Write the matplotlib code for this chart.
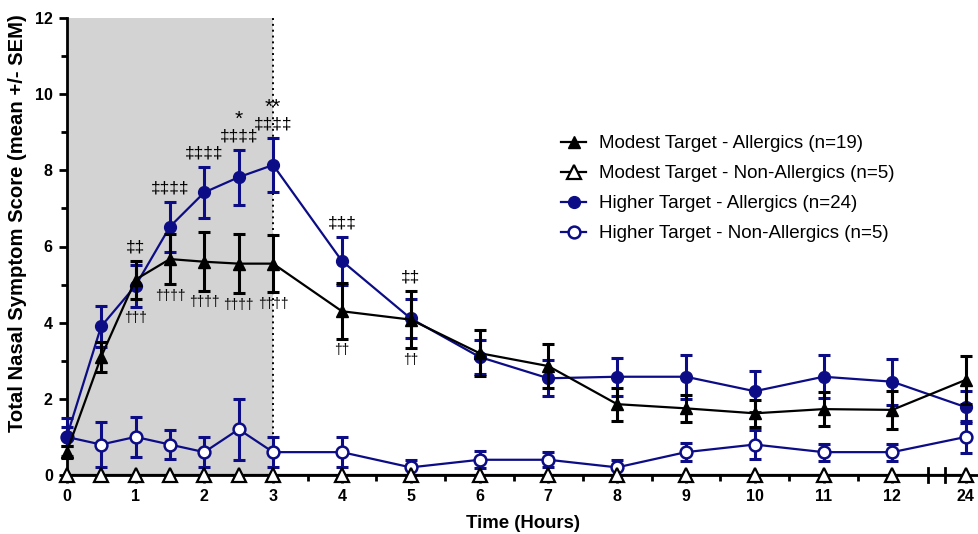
import numpy as np
import matplotlib
matplotlib.use('Agg')
import matplotlib.pyplot as plt
import matplotlib.transforms as mtransforms

plt.rcParams['font.family'] = ['Liberation Sans', 'DejaVu Sans']

# time points (hours); 24 h sits just after the axis break
hours = [0, 0.5, 1, 1.5, 2, 2.5, 3, 4, 5, 6, 7, 8, 9, 10, 11, 12, 24]
tick_hours = [0, 1, 2, 3, 4, 5, 6, 7, 8, 9, 10, 11, 12, 24]

modest_all = [0.6, 3.1, 5.13, 5.67, 5.6, 5.55, 5.55, 4.3, 4.08, 3.2, 2.86, 1.86, 1.75, 1.62, 1.73, 1.71, 2.5]
modest_all_sem = [0.15, 0.4, 0.5, 0.66, 0.77, 0.78, 0.75, 0.73, 0.75, 0.6, 0.57, 0.43, 0.36, 0.35, 0.44, 0.5, 0.63]
modest_non = [0] * 17
higher_all = [1.0, 3.9, 4.97, 6.52, 7.42, 7.82, 8.14, 5.62, 4.11, 3.1, 2.54, 2.58, 2.58, 2.2, 2.58, 2.45, 1.78]
higher_all_sem = [0.5, 0.53, 0.55, 0.66, 0.67, 0.72, 0.71, 0.63, 0.52, 0.45, 0.47, 0.5, 0.58, 0.54, 0.56, 0.6, 0.42]
higher_non = [1.0, 0.8, 1.0, 0.8, 0.6, 1.2, 0.6, 0.6, 0.2, 0.4, 0.4, 0.2, 0.6, 0.8, 0.6, 0.6, 1.0]
higher_non_sem = [0.25, 0.58, 0.53, 0.37, 0.4, 0.8, 0.4, 0.4, 0.2, 0.22, 0.2, 0.2, 0.24, 0.37, 0.22, 0.22, 0.42]

labels = ['Modest Target - Allergics (n=19)', 'Modest Target - Non-Allergics (n=5)',
          'Higher Target - Allergics (n=24)', 'Higher Target - Non-Allergics (n=5)']

# significance marks
dbl_marks = {1: '‡‡', 1.5: '‡‡‡‡', 2: '‡‡‡‡', 2.5: '‡‡‡‡', 3: '‡‡‡‡', 4: '‡‡‡', 5: '‡‡'}
dag_marks = {1: '†††', 1.5: '††††', 2: '††††', 2.5: '††††', 3: '††††', 4: '††', 5: '††'}
star_marks = {2.5: '*', 3: '**'}

BREAK_POS = 13.07
def xpos(h):
    return h if h <= 12 else BREAK_POS

x = np.array([xpos(h) for h in hours])
navy = '#0c0c86'

fig = plt.figure(figsize=(9.79, 5.34), dpi=100)
ax = fig.add_axes([66.7/979, 59/534, (979-66.7)/979, 457/534])

ax.axvspan(0, 3, color='#d3d3d3', zorder=0, lw=0)
ax.axvline(3, color='black', ls=(0, (1, 2)), lw=1.4, zorder=1)

ekw = dict(fmt='none', elinewidth=2.2, capsize=4.5, capthick=2.2, clip_on=False)
ax.errorbar(x, higher_non, yerr=higher_non_sem, ecolor=navy, zorder=2, **ekw)
ax.errorbar(x, higher_all, yerr=higher_all_sem, ecolor=navy, zorder=3, **ekw)
ax.plot(x, higher_non, color=navy, lw=1.6, marker='o', ms=8.5, mfc='white', mec=navy, mew=1.8,
        zorder=2.5, clip_on=False, label=labels[3])
ax.plot(x, higher_all, color=navy, lw=1.6, marker='o', ms=8.5, mfc=navy, mec=navy,
        zorder=3.5, clip_on=False, label=labels[2])
ax.errorbar(x, modest_all, yerr=modest_all_sem, ecolor='black', zorder=4, **ekw)
ax.plot(x, modest_all, color='black', lw=1.6, marker='^', ms=9, mfc='black', mec='black',
        zorder=4.5, clip_on=False, label=labels[0])
ax.plot(x, modest_non, color='black', lw=1.6, marker='^', ms=9.5, mfc='white', mec='black', mew=1.6,
        zorder=5, clip_on=False, label=labels[1])

# annotations
ha_top = np.maximum(np.array(higher_all) + higher_all_sem, np.array(modest_all) + modest_all_sem)
lo_bot = np.minimum(np.array(higher_all) - higher_all_sem, np.array(modest_all) - modest_all_sem)
for h, s in dbl_marks.items():
    i = hours.index(h)
    ax.text(xpos(h), ha_top[i] + 0.36, s, ha='center', va='center', fontsize=12.5, zorder=6)
    if h in star_marks:
        ax.text(xpos(h), ha_top[i] + 0.36 + 0.45, star_marks[h], ha='center', va='center',
                fontsize=15, zorder=6)
for h, s in dag_marks.items():
    i = hours.index(h)
    ax.text(xpos(h), lo_bot[i] - 0.3, s, ha='center', va='center', fontsize=10, zorder=6)

ax.set_xlim(0, 13.26)
ax.set_ylim(0, 12)
ax.set_xticks([xpos(h) for h in tick_hours])
ax.set_xticklabels([str(h) for h in tick_hours])
ax.set_xticks(np.arange(0.5, 12, 1), minor=True)
ax.set_yticks(np.arange(0, 13, 2))
ax.set_yticks(np.arange(1, 12, 2), minor=True)

for sp in ['top', 'right']:
    ax.spines[sp].set_visible(False)
for sp in ['left', 'bottom']:
    ax.spines[sp].set_linewidth(2)
ax.tick_params(which='major', length=6, width=2, labelsize=11.5, pad=4)
ax.tick_params(which='minor', length=4, width=2)
for lab in ax.get_xticklabels() + ax.get_yticklabels():
    lab.set_fontweight('bold')

# axis break marks between 12 and 24
trans = mtransforms.blended_transform_factory(ax.transData, ax.transAxes)
for bx in [12.52, 12.77]:
    ax.plot([bx, bx], [-0.015, 0.015], color='black', lw=2, transform=trans, clip_on=False)

ax.set_xlabel('Time (Hours)', fontsize=13.4, fontweight='bold', labelpad=8)
ax.set_ylabel('Total Nasal Symptom Score (mean +/- SEM)', fontsize=14.6, fontweight='bold')
ax.yaxis.set_label_coords(-0.044, 0.551)

handles, labs = ax.get_legend_handles_labels()
order = [labs.index(l) for l in labels]
ax.legend([handles[i] for i in order], [labs[i] for i in order], loc='upper left',
          bbox_to_anchor=(561/979, 1 - 135/534), bbox_transform=fig.transFigure,
          frameon=False, fontsize=13.5, handlelength=1.35, handletextpad=0.7,
          labelspacing=0.69, borderpad=0, borderaxespad=0)

fig.savefig('out.png', dpi=100)
